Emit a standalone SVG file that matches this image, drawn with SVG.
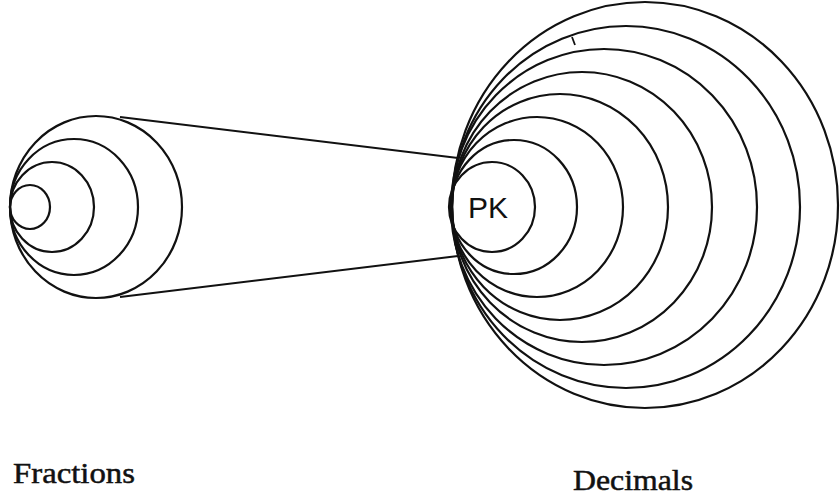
<svg xmlns="http://www.w3.org/2000/svg" width="840" height="498" viewBox="0 0 840 498">
<style>
.c{fill:none;stroke:#111;stroke-width:2.2}
.l{fill:none;stroke:#111;stroke-width:1.8}
.lbl{font-family:"Liberation Serif",serif;font-size:30px;fill:#111;stroke:#111;stroke-width:0.5}
.pk{font-family:"Liberation Sans",sans-serif;font-size:30px;fill:#111}
</style>
<rect width="840" height="498" fill="#fff"/>
<g id="connectors">
<line class="l" x1="120" y1="117" x2="458" y2="158"/>
<line class="l" x1="120" y1="297" x2="458" y2="256"/>
</g>
<g id="fractions">
<ellipse class="c" cx="30" cy="207" rx="20" ry="22"/>
<ellipse class="c" cx="52" cy="207" rx="42" ry="45"/>
<ellipse class="c" cx="74" cy="207" rx="64" ry="68"/>
<ellipse class="c" cx="96" cy="207" rx="86" ry="91"/>
<text class="lbl" x="13" y="483" textLength="122" lengthAdjust="spacingAndGlyphs">Fractions</text>
</g>
<g id="decimals">
<ellipse class="c" cx="645" cy="205" rx="193" ry="203"/>
<ellipse class="c" cx="626" cy="207" rx="174" ry="181"/>
<ellipse class="c" cx="604" cy="207" rx="153" ry="158"/>
<ellipse class="c" cx="582" cy="207" rx="130" ry="135"/>
<ellipse class="c" cx="560" cy="207" rx="108" ry="113"/>
<ellipse class="c" cx="537" cy="207" rx="86" ry="90"/>
<ellipse class="c" cx="514" cy="207" rx="63" ry="67"/>
<line class="l" x1="572" y1="37" x2="575" y2="45"/>
<text class="lbl" x="573" y="490" textLength="120" lengthAdjust="spacingAndGlyphs">Decimals</text>
</g>
<g id="pk">
<ellipse class="c" cx="492" cy="207" rx="43" ry="45" fill="#fff"/>
<text class="pk" x="488" y="218" text-anchor="middle">PK</text>
</g>
</svg>
